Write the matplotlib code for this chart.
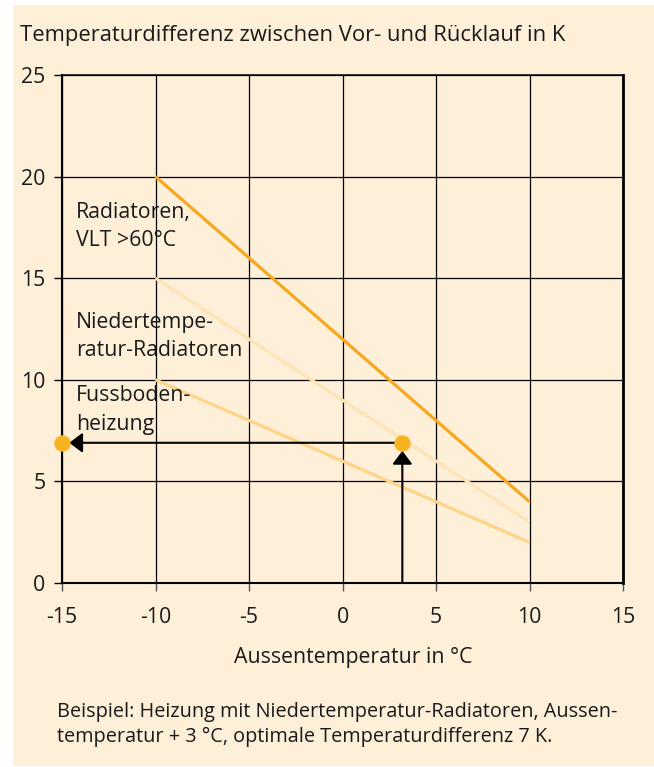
import matplotlib
matplotlib.use("Agg")
import matplotlib.pyplot as plt
from matplotlib.patches import Rectangle

# ---- data ----
x_ends = [-10, 10]
radiatoren = [20, 4]
niedertemp = [15, 3]
fussboden = [10, 2]
example_x = 3.2
example_y = 6.9
x_ticks = [-15, -10, -5, 0, 5, 10, 15]
y_ticks = [0, 5, 10, 15, 20, 25]

title = "Temperaturdifferenz zwischen Vor- und Rücklauf in K"
xlabel = "Aussentemperatur in °C"
caption = ("Beispiel: Heizung mit Niedertemperatur-Radiatoren, Aussen-\n"
           "temperatur + 3 °C, optimale Temperaturdifferenz 7 K.")

CREAM = "#feefd9"
TXT = "#1a1a1a"
FONT = ["Open Sans", "DejaVu Sans"]
plt.rcParams["font.family"] = FONT
plt.rcParams["axes.unicode_minus"] = False
FS = 15.3

W, H = 654, 767
fig = plt.figure(figsize=(W / 100, H / 100), dpi=100, facecolor="white")
fig.patches.append(Rectangle((12.7 / W, 1 - 766 / H), 1 - 12.7 / W, (766 - 5) / H,
                             transform=fig.transFigure, facecolor=CREAM,
                             edgecolor="none", zorder=-5))

ax = fig.add_axes([62 / W, 1 - 583 / H, (623 - 62) / W, (583 - 75) / H], zorder=2)
ax.set_facecolor(CREAM)
ax.set_xlim(-15, 15)
ax.set_ylim(0, 25)
ax.set_xticks(x_ticks)
ax.set_yticks(y_ticks)
ax.grid(True, color="black", lw=0.9, zorder=1)
ax.set_axisbelow(True)
for side, lw in [("left", 1.5), ("bottom", 1.5), ("right", 2.0), ("top", 1.1)]:
    ax.spines[side].set_linewidth(lw)
    ax.spines[side].set_color("black")
ax.tick_params(axis="x", length=5.5, width=1, color="#555555", pad=12,
               labelsize=FS, labelcolor=TXT)
ax.tick_params(axis="y", length=6, width=1, color="black", pad=6,
               labelsize=FS, labelcolor=TXT)

ax.plot(x_ends, fussboden, color="#fdd488", lw=2.3, solid_capstyle="butt", zorder=3)
ax.plot(x_ends, niedertemp, color="#fde4b4", lw=2.3, solid_capstyle="butt", zorder=3)
ax.plot(x_ends, radiatoren, color="#f6a81f", lw=2.3, solid_capstyle="butt", zorder=3)

# example arrows
ax.annotate("", xy=(example_x, example_y), xytext=(example_x, 0),
            arrowprops=dict(arrowstyle="-|>,head_length=0.8,head_width=0.6",
                            color="black", lw=1.5, shrinkA=0, shrinkB=5.8,
                            mutation_scale=10), zorder=4, annotation_clip=False)
ax.annotate("", xy=(-15, example_y), xytext=(example_x, example_y),
            arrowprops=dict(arrowstyle="-|>,head_length=0.8,head_width=0.6",
                            color="black", lw=1.5, shrinkA=0, shrinkB=5.2,
                            mutation_scale=10), zorder=4, annotation_clip=False)
ax.plot([example_x, -15], [example_y, example_y], "o", color="#f8b323",
        ms=11.8, mec="none", zorder=5, clip_on=False)

# inline labels
lab_kw = dict(fontsize=FS, color=TXT, ha="left", va="center", linespacing=1.45, zorder=6)
ax.text(-14.25, 17.55, "Radiatoren,\nVLT >60°C", **lab_kw)
ax.text(-14.25, 12.13, "Niedertempe-\nratur-Radiatoren", **lab_kw)
ax.text(-14.25, 8.51, "Fussboden-\nheizung", **lab_kw)

fig.text(20 / W, 1 - 35 / H, title, fontsize=15.8, color=TXT, ha="left", va="center")
fig.text(353 / W, 1 - 657 / H, xlabel, fontsize=FS, color=TXT, ha="center", va="center")
fig.text(57 / W, 1 - 724.5 / H, caption, fontsize=14.3, color=TXT, ha="left",
         va="center", linespacing=1.3)

fig.savefig("out.png", dpi=100, facecolor="white")
